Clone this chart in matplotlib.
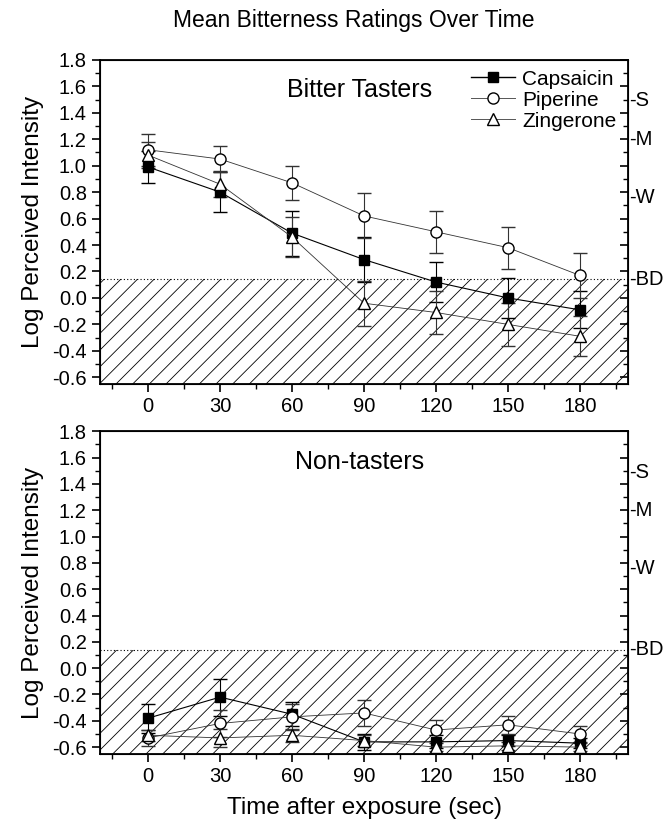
import matplotlib.pyplot as plt
from matplotlib.lines import Line2D
from matplotlib.ticker import MultipleLocator

plt.rcParams['font.family'] = ['Liberation Sans', 'DejaVu Sans']
plt.rcParams['hatch.linewidth'] = 0.6

# data
time = [0, 30, 60, 90, 120, 150, 180]

# bitter tasters
cap_bt = [0.99, 0.80, 0.49, 0.29, 0.12, 0.00, -0.09]
cap_bt_err = [0.12, 0.15, 0.17, 0.17, 0.15, 0.15, 0.14]
pip_bt = [1.12, 1.05, 0.87, 0.62, 0.50, 0.38, 0.17]
pip_bt_err = [0.12, 0.10, 0.13, 0.17, 0.16, 0.16, 0.17]
zin_bt = [1.08, 0.86, 0.46, -0.04, -0.11, -0.20, -0.29]
zin_bt_err = [0.10, 0.10, 0.15, 0.17, 0.16, 0.16, 0.15]

# non-tasters
cap_nt = [-0.38, -0.22, -0.35, -0.56, -0.56, -0.55, -0.57]
cap_nt_err = [0.11, 0.14, 0.09, 0.06, 0.05, 0.04, 0.04]
pip_nt = [-0.53, -0.42, -0.37, -0.34, -0.47, -0.43, -0.50]
pip_nt_err = [0.06, 0.10, 0.10, 0.10, 0.08, 0.07, 0.06]
zin_nt = [-0.51, -0.53, -0.51, -0.55, -0.60, -0.59, -0.60]
zin_nt_err = [0.04, 0.07, 0.05, 0.04, 0.03, 0.03, 0.03]

# gLMS labels
glms_labels = ['-S', '-M', '-W', '-BD']
glms_pos = [1.49, 1.20, 0.76, 0.14]
bd = 0.14


def panel(ax, cap, cap_e, pip, pip_e, zin, zin_e, title):
    ax.fill_between([-20, 200], -0.65, bd, facecolor='none', edgecolor='black',
                    hatch='//', linewidth=0, zorder=0)
    ax.axhline(bd, color='black', ls=(0, (1, 2)), lw=0.8, zorder=1)

    ax.errorbar(time, cap, yerr=cap_e, color='black', marker='s', ms=7,
                mfc='black', lw=0.8, capsize=5, elinewidth=0.8, zorder=3)
    ax.errorbar(time, pip, yerr=pip_e, color='#333333', marker='o', ms=8,
                mfc='white', mec='black', lw=0.6, capsize=5, elinewidth=0.8, zorder=3)
    ax.errorbar(time, zin, yerr=zin_e, color='#333333', marker='^', ms=8,
                mfc='white', mec='black', lw=0.6, capsize=5, elinewidth=0.8, zorder=3)

    ax.set_xlim(-20, 200)
    ax.set_ylim(-0.65, 1.8)
    ax.xaxis.set_major_locator(MultipleLocator(30))
    ax.xaxis.set_minor_locator(MultipleLocator(15))
    ax.yaxis.set_major_locator(MultipleLocator(0.2))
    ax.yaxis.set_minor_locator(MultipleLocator(0.1))
    ax.yaxis.set_major_formatter(lambda v, p: f"{v:.1f}")
    ax.tick_params(axis='both', which='major', length=6, width=1.2, labelsize=14.5)
    ax.tick_params(axis='both', which='minor', length=3.5, width=1.0)
    for s in ax.spines.values():
        s.set_linewidth(1.3)

    # right ticks drawn inward
    axr = ax.twinx()
    axr.set_ylim(ax.get_ylim())
    axr.yaxis.set_major_locator(MultipleLocator(0.2))
    axr.yaxis.set_minor_locator(MultipleLocator(0.1))
    axr.tick_params(axis='y', which='major', direction='in', length=6, width=1.2, labelright=False)
    axr.tick_params(axis='y', which='minor', direction='in', length=3.5, width=1.0)
    for lab, y in zip(glms_labels, glms_pos):
        ax.text(200.5, y, lab, fontsize=14.5, va='center', ha='left', clip_on=False)

    ax.text(88, 1.57, title, fontsize=18, ha='center', va='center')
    ax.set_ylabel('Log Perceived Intensity', fontsize=17.5, labelpad=6)


fig = plt.figure(figsize=(6.67, 8.31), dpi=100)
ax1 = fig.add_axes([0.150, 0.538, 0.7915, 0.390])
ax2 = fig.add_axes([0.150, 0.093, 0.7915, 0.388])

panel(ax1, cap_bt, cap_bt_err, pip_bt, pip_bt_err, zin_bt, zin_bt_err, 'Bitter Tasters')
panel(ax2, cap_nt, cap_nt_err, pip_nt, pip_nt_err, zin_nt, zin_nt_err, 'Non-tasters')

handles = [
    Line2D([], [], color='black', lw=1.0, marker='s', ms=7, mfc='black'),
    Line2D([], [], color='#555555', lw=0.7, marker='o', ms=8, mfc='white', mec='black'),
    Line2D([], [], color='#555555', lw=0.7, marker='^', ms=8, mfc='white', mec='black'),
]
ax1.legend(handles, ['Capsaicin', 'Piperine', 'Zingerone'], loc='upper left',
           bbox_to_anchor=(0.703, 0.97), frameon=False, fontsize=15, borderpad=0,
           borderaxespad=0, handlelength=2.1, handletextpad=0.35, labelspacing=0.1)

fig.text(0.53, 0.975, 'Mean Bitterness Ratings Over Time', fontsize=16.5, ha='center', va='center')
fig.text(0.547, 0.028, 'Time after exposure (sec)', fontsize=17.5, ha='center', va='center')

fig.savefig('out.png', dpi=100)
